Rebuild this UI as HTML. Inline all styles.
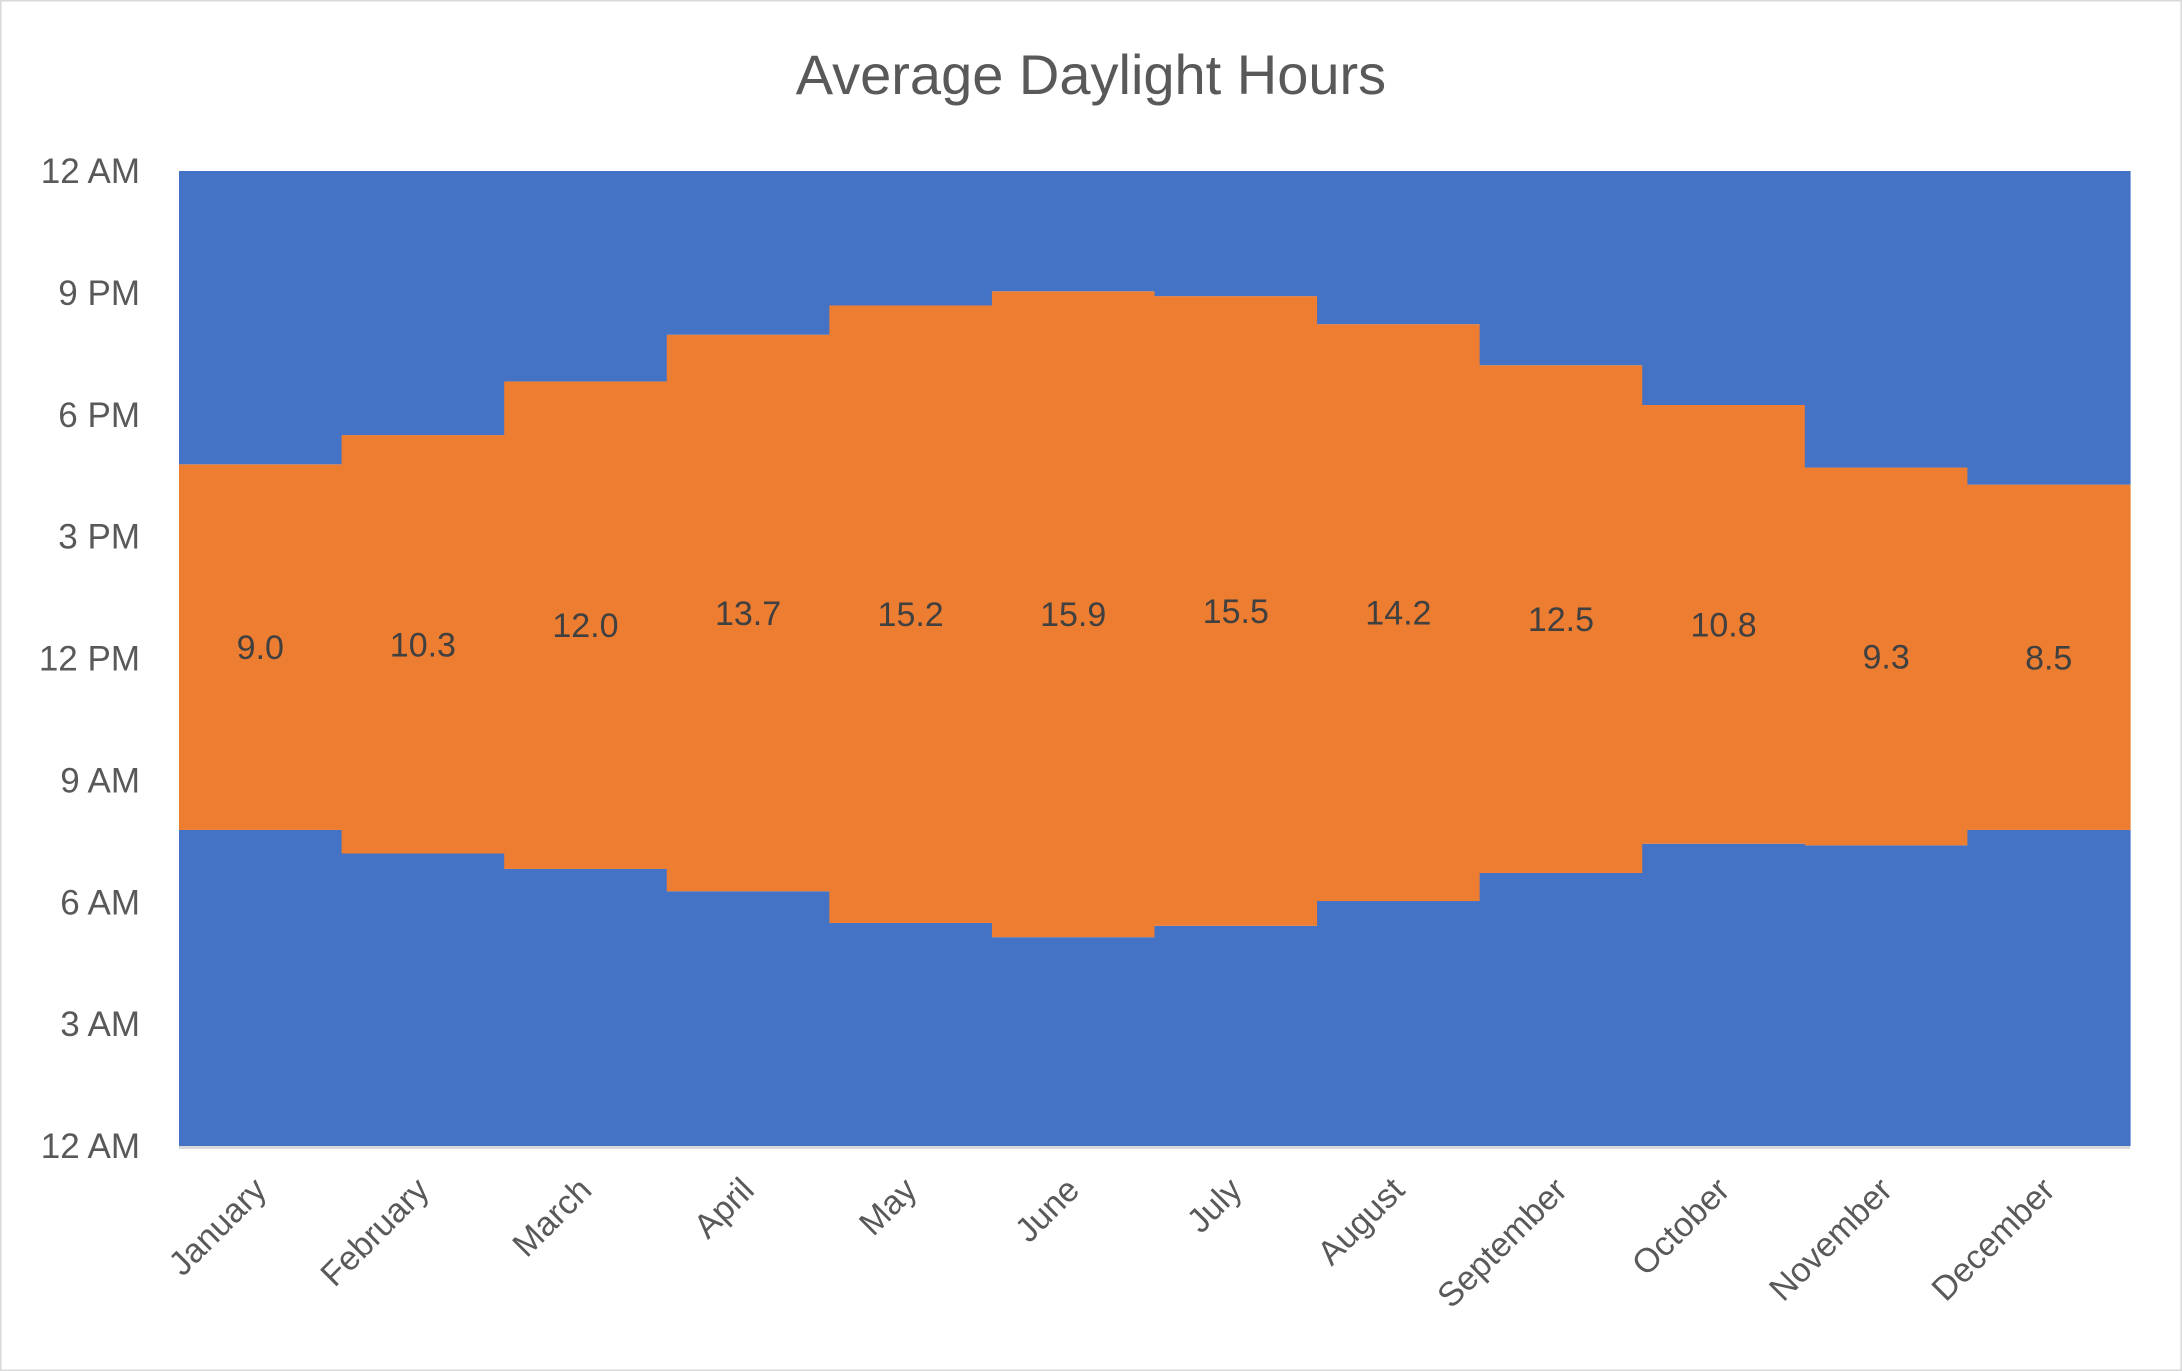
<!DOCTYPE html>
<html><head><meta charset="utf-8"><style>
html,body{margin:0;padding:0;background:#fff;}
svg{display:block;font-family:"Liberation Sans",sans-serif;}
</style></head><body>
<svg id="chart" width="2182" height="1371" viewBox="0 0 2182 1371" xmlns="http://www.w3.org/2000/svg">
<rect x="0.5" y="0.5" width="2181" height="1370" fill="#fff" stroke="#d9d9d9" stroke-width="2"/>
<text x="1091" y="94" text-anchor="middle" font-size="56" fill="#595959">Average Daylight Hours</text>
<g id="plot"></g>
</svg>
<script>
const months = ["January","February","March","April","May","June","July","August","September","October","November","December"];
const sunrise = [7.78,7.2,6.82,6.27,5.49,5.14,5.42,6.03,6.72,7.44,7.40,7.78];
const daylight = [9.0,10.3,12.0,13.7,15.2,15.9,15.5,14.2,12.5,10.8,9.3,8.5];
const yTicks = ["12 AM","3 AM","6 AM","9 AM","12 PM","3 PM","6 PM","9 PM","12 AM"];
const L=179,R=2130,T=171,B=1146;
const NS="http://www.w3.org/2000/svg";
const g=document.getElementById('plot');
const y=h=>B-(h/24)*(B-T);
const bw=(R-L)/months.length;
const x=i=>L+i*bw;
function mk(tag,attrs){const e=document.createElementNS(NS,tag);for(const k in attrs)e.setAttribute(k,attrs[k]);g.appendChild(e);return e;}
months.forEach((m,i)=>{
  const s=sunrise[i], d=daylight[i];
  let r=mk('rect',{x:x(i),y:y(s),width:bw+0.6,height:y(0)-y(s),fill:'#4472c4'});
  
  
  r=mk('rect',{x:x(i),y:y(s+d),width:bw+0.6,height:y(s)-y(s+d),fill:'#ed7d31'});
  
  
  r=mk('rect',{x:x(i),y:y(24),width:bw+0.6,height:y(s+d)-y(24),fill:'#4472c4'});
  
  
  let t=mk('text',{x:x(i)+bw/2,y:y(s+d/2)+12,'text-anchor':'middle','font-size':34,fill:'#404040'});
  t.textContent=d.toFixed(1);
  
  
  const cx=x(i)+bw/2+8, cy=1192;
  t=mk('text',{x:cx,y:cy,'text-anchor':'end','font-size':34,fill:'#595959',transform:`rotate(-45 ${cx} ${cy})`});
  t.textContent=m;
  
  
});
yTicks.forEach((lab,i)=>{
  const t=mk('text',{x:140,y:y(i*3)+12,'text-anchor':'end','font-size':35,fill:'#595959'});
  t.textContent=lab;
  
  
});
const ax=mk('line',{x1:L,x2:R,y1:B+1.5,y2:B+1.5,stroke:'#d9d9d9','stroke-width':3});


</script>
</body></html>
